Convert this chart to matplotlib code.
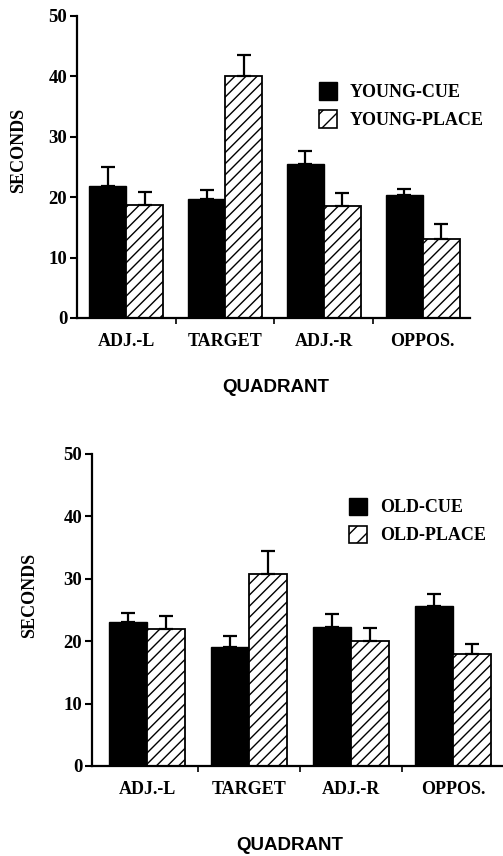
import matplotlib
matplotlib.use("Agg")
import matplotlib.pyplot as plt
import numpy as np
from matplotlib.patches import Patch

QUADRANTS = ["ADJ.-L", "TARGET", "ADJ.-R", "OPPOS."]

YOUNG_CUE = [21.8, 19.7, 25.5, 20.4]
YOUNG_CUE_ERR = [3.2, 1.5, 2.1, 0.9]
YOUNG_PLACE = [18.7, 40.1, 18.6, 13.1]
YOUNG_PLACE_ERR = [2.1, 3.4, 2.1, 2.5]

OLD_CUE = [23.0, 19.1, 22.2, 25.7]
OLD_CUE_ERR = [1.5, 1.7, 2.1, 1.9]
OLD_PLACE = [21.9, 30.7, 20.0, 17.9]
OLD_PLACE_ERR = [2.1, 3.8, 2.1, 1.7]

Y_TICKS = [0, 10, 20, 30, 40, 50]

SERIF = "Liberation Serif"
SANS = "Liberation Sans"

plt.rcParams["hatch.linewidth"] = 1.0


def draw_panel(ax, cue, cue_err, place, place_err, labels, xlim, legend_anchor):
    x = np.arange(len(QUADRANTS))
    w = 0.375
    ax.bar(x - w / 2, cue, width=w, color="black", edgecolor="black", linewidth=1.0)
    ax.bar(x + w / 2, place, width=w, color="white", edgecolor="black",
           linewidth=1.3, hatch="///")
    zeros = np.zeros(len(x))
    ax.errorbar(x - w / 2, cue, yerr=[zeros, cue_err], fmt="none", ecolor="black",
                elinewidth=1.6, capsize=5, capthick=1.6)
    ax.errorbar(x + w / 2, place, yerr=[zeros, place_err], fmt="none", ecolor="black",
                elinewidth=1.6, capsize=5, capthick=1.6)

    ax.set_xlim(*xlim)
    ax.set_ylim(0, 50)
    ax.set_yticks(Y_TICKS)
    ax.set_yticklabels([str(t) for t in Y_TICKS], fontfamily=SERIF,
                       fontweight="bold", fontsize=13.5)
    ax.set_xticks(x)
    ax.set_xticklabels(QUADRANTS, fontfamily=SERIF, fontweight="bold", fontsize=13)
    ax.set_xticks(x[:-1] + 0.5, minor=True)
    ax.tick_params(axis="x", which="major", length=0, pad=11)
    ax.tick_params(axis="x", which="minor", length=4, width=1.2, direction="out")
    ax.tick_params(axis="y", length=5, width=1.5, pad=2)

    for side in ["top", "right"]:
        ax.spines[side].set_visible(False)
    for side in ["left", "bottom"]:
        ax.spines[side].set_linewidth(1.6)

    handles = [
        Patch(facecolor="black", edgecolor="black"),
        Patch(facecolor="white", edgecolor="black", hatch="//", linewidth=1.2),
    ]
    ax.legend(handles, labels, loc="upper left", bbox_to_anchor=legend_anchor,
              frameon=False, handlelength=1.0, handleheight=1.1,
              handletextpad=0.7, labelspacing=0.5, borderaxespad=0, borderpad=0,
              prop={"family": SERIF, "weight": "bold", "size": 13})


fig = plt.figure(figsize=(5.03, 8.56), dpi=100)

ax1 = fig.add_axes([77 / 503, 1 - 318 / 856, 393 / 503, 302 / 856])
draw_panel(ax1, YOUNG_CUE, YOUNG_CUE_ERR, YOUNG_PLACE, YOUNG_PLACE_ERR,
           ["YOUNG-CUE", "YOUNG-PLACE"], (-0.5, 3.48), (0.615, 0.78))

ax2 = fig.add_axes([92 / 503, 1 - 766 / 856, 410 / 503, 312 / 856])
draw_panel(ax2, OLD_CUE, OLD_CUE_ERR, OLD_PLACE, OLD_PLACE_ERR,
           ["OLD-CUE", "OLD-PLACE"], (-0.54, 3.48), (0.627, 0.86))

fig.text(19 / 503, 1 - 150 / 856, "SECONDS", rotation=90, ha="center", va="center",
         fontfamily=SERIF, fontweight="bold", fontsize=13)
fig.text(30 / 503, 1 - 595 / 856, "SECONDS", rotation=90, ha="center", va="center",
         fontfamily=SERIF, fontweight="bold", fontsize=13)
fig.text(276 / 503, 1 - 388 / 856, "QUADRANT", ha="center", va="center",
         fontfamily=SANS, fontweight="bold", fontsize=13.5)
fig.text(290 / 503, 1 - 846 / 856, "QUADRANT", ha="center", va="center",
         fontfamily=SANS, fontweight="bold", fontsize=13.5)

fig.savefig("out.png", dpi=100)
